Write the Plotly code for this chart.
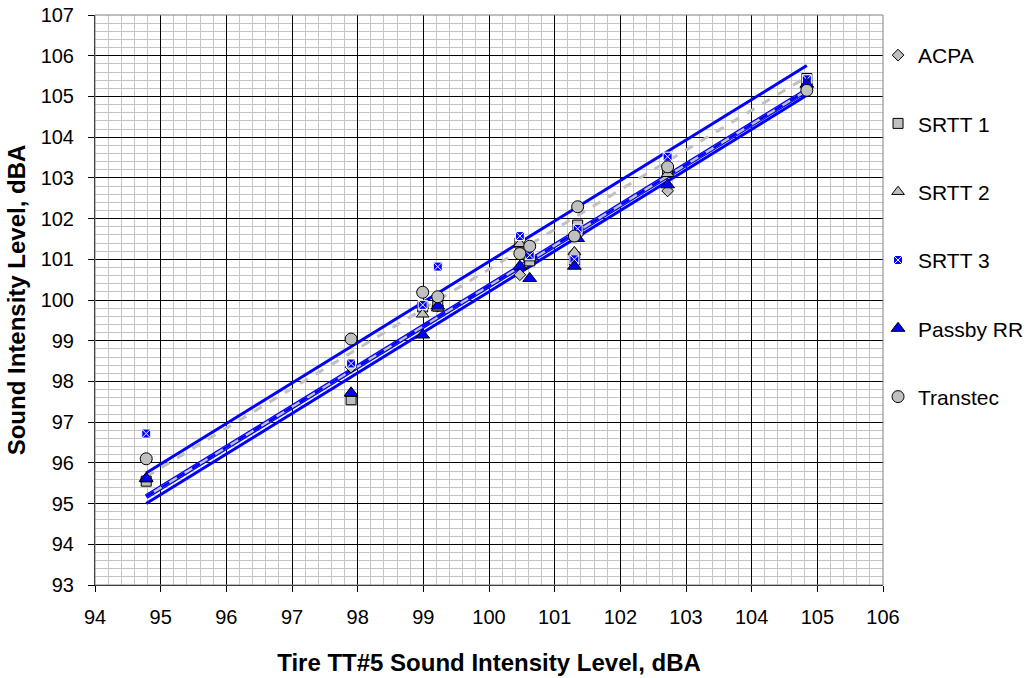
import plotly.graph_objects as go

# ---- data ----
sites_x = [94.78, 97.90, 98.99, 99.22, 100.47, 100.62, 101.30, 101.35, 102.72, 104.84]
acpa     = [95.60, 98.35, 99.80, 99.85, 100.62, 101.00, 101.15, 101.60, 102.68, 105.30]
srtt1    = [95.55, 97.55, 99.83, 99.85, 101.40, 100.96, 100.98, 101.84, 103.18, 105.44]
srtt2    = [95.60, 97.70, 99.65, 99.80, 101.38, 101.03, 101.18, 101.72, 103.10, 105.30]
srtt3    = [96.72, 98.44, 99.88, 100.82, 101.57, 101.10, 101.00, 101.75, 103.52, 105.42]
passby   = [95.62, 97.72, 99.14, 99.85, 100.83, 100.53, 100.83, 101.51, 102.83, 105.30]
transtec = [96.10, 99.04, 100.19, 100.08, 101.14, 101.32, 101.57, 102.29, 103.27, 105.15]

# trendline end points (x range of data, y at both ends)
trend_x          = [94.78, 104.84]
trend_srtt3      = [95.75, 105.76]
trend_transtec   = [95.66, 105.48]
trend_middle     = [95.17, 105.15]
trend_passby     = [95.00, 105.03]

x_ticks = list(range(94, 107))
y_ticks = list(range(93, 108))

BLUE = "#0000FF"
GRAY = "#C0C0C0"
FONT = "Liberation Sans, Arial, sans-serif"

fig = go.Figure()

def tline(y, color, width, dash="solid"):
    fig.add_trace(go.Scatter(x=trend_x, y=y, mode="lines", showlegend=False,
                             hoverinfo="skip",
                             line=dict(color=color, width=width, dash=dash)))

tline(trend_srtt3, BLUE, 3)
tline(trend_transtec, GRAY, 3, "dash")
tline(trend_middle, BLUE, 5)
tline(trend_middle, GRAY, 2.5)
tline(trend_middle, BLUE, 2.5, "dash")
tline(trend_passby, BLUE, 3)

series = [
    ("ACPA", acpa, "diamond", GRAY, "black", 9),
    ("SRTT 1", srtt1, "square", GRAY, "black", 10),
    ("SRTT 2", srtt2, "triangle-up", GRAY, "black", 11),
    ("SRTT 3", srtt3, "square-x", BLUE, "white", 9),
    ("Passby RR", passby, "triangle-up", BLUE, "black", 12),
    ("Transtec", transtec, "circle", GRAY, "black", 12),
]
for name, ys, sym, fill, edge, size in series:
    fig.add_trace(go.Scatter(
        x=sites_x, y=ys, mode="markers", name=name, legendgroup=name,
        marker=dict(symbol=sym, color=fill, size=size,
                    line=dict(color=edge, width=1)),
    ))

axis_common = dict(
    showline=True, linecolor="black", linewidth=1, mirror=False,
    ticks="outside", ticklen=6, tickcolor="black",
    showgrid=True, gridcolor="#000000", gridwidth=1,
    zeroline=False, automargin=False, ticklabeloverflow="allow",
    tickfont=dict(family=FONT, size=20, color="black"),
    minor=dict(dtick=0.2, showgrid=True, gridcolor="#C4C4C4", gridwidth=1, ticks=""),
)

fig.update_xaxes(
    range=[94, 106], tickvals=x_ticks, ticktext=[str(v) for v in x_ticks],
    ticklabelstandoff=8,
    title=dict(text="<b>Tire TT#5 Sound Intensity Level, dBA</b>",
               font=dict(family=FONT, size=24, color="black"), standoff=27),
    **axis_common,
)
fig.update_yaxes(
    range=[93, 107], tickvals=y_ticks, ticktext=[str(v) for v in y_ticks],
    ticklabelstandoff=10,
    title=dict(text="<b>Sound Intensity Level, dBA</b>",
               font=dict(family=FONT, size=24, color="black"), standoff=8),
    **axis_common,
)

fig.add_shape(type="rect", xref="paper", yref="paper", x0=0, y0=0, x1=1, y1=1,
              line=dict(color="#808080", width=1), layer="above")

fig.update_layout(
    width=1028, height=678, autosize=False,
    margin=dict(l=95, r=145, t=15, b=93, autoexpand=False),
    plot_bgcolor="white", paper_bgcolor="white",
    font=dict(family=FONT, size=20, color="black"),
    legend=dict(x=0.9937, xanchor="left", y=0.965, yanchor="top",
                tracegroupgap=38, font=dict(family=FONT, size=21),
                bgcolor="rgba(0,0,0,0)", itemwidth=30),
    showlegend=True,
)

fig.write_html("out.html", config={"responsive": False, "displayModeBar": False},
               post_script="document.body.style.margin='0px';")
